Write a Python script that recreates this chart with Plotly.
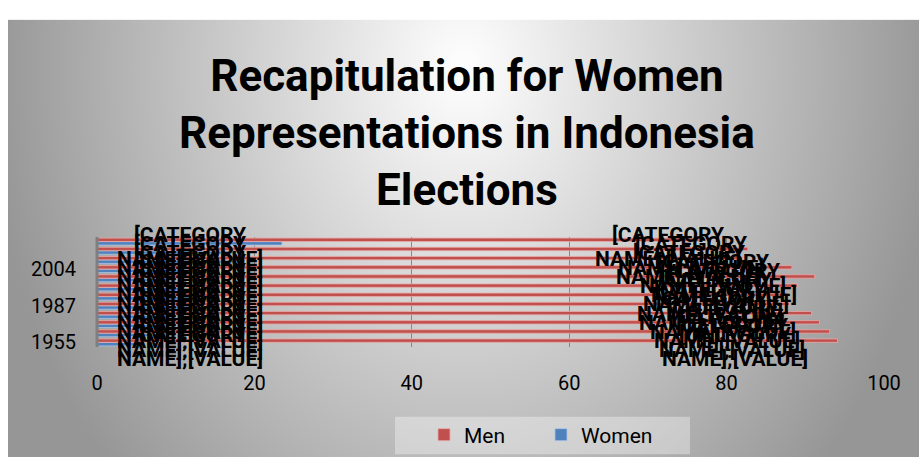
import base64
import struct
import zlib

import numpy as np
import plotly.graph_objects as go

# Election years (bottom to top) and seat shares in percent
years = ["1955", "1971", "1977", "1982", "1987", "1992",
         "1997", "1999", "2004", "2009", "2014", "2019"]
men = [94.1, 93.1, 91.8, 90.8, 88.0, 87.5, 89.0, 91.2, 88.3, 82.0, 82.7, 76.5]
women = [5.9, 6.9, 8.2, 9.2, 12.0, 12.5, 11.0, 8.8, 11.7, 18.0, 17.3, 23.5]
shown_years = ["1955", "1987", "2004"]
x_ticks = [0, 20, 40, 60, 80, 100]

title_text = ("Recapitulation for Women<br>Representations in Indonesia<br>"
              "Elections")
label_lines = ["[CATEGORY", "NAME];[VALUE]"]

W, H = 919, 467
# plot area in pixels
PL, PR, PT, PB = 97, 884, 237, 352
FONT = "Roboto, sans-serif"


def px_x(p):
    return (p - PL) / (PR - PL)


def px_y(p):
    return (PB - p) / (PB - PT)


def gradient_png(w, h):
    """Soft grey backdrop, brightest near the top centre."""
    xs = np.arange(w)[None, :]
    ys = np.arange(h)[:, None]
    r = np.sqrt(((xs - w / 2) / (w / 2)) ** 2 + ((ys - 50) / 600) ** 2)
    v = 255 - 100 * np.clip(r, 0, 1.05)
    v = np.clip(v, 0, 255).astype(np.uint8)
    rgb = np.stack([v, v, v], axis=-1)
    raw = b"".join(b"\x00" + row.tobytes() for row in rgb)

    def chunk(tag, data):
        c = struct.pack(">I", len(data)) + tag + data
        return c + struct.pack(">I", zlib.crc32(tag + data) & 0xFFFFFFFF)

    png = b"\x89PNG\r\n\x1a\n"
    png += chunk(b"IHDR", struct.pack(">IIBBBBB", w, h, 8, 2, 0, 0, 0))
    png += chunk(b"IDAT", zlib.compress(raw, 9))
    png += chunk(b"IEND", b"")
    return "data:image/png;base64," + base64.b64encode(png).decode()


fig = go.Figure()
fig.add_trace(go.Bar(
    y=years, x=women, orientation="h", name="Women",
    marker=dict(color="#4F81BD", line=dict(color="#A9C4E6", width=0.8)),
))
fig.add_trace(go.Bar(
    y=years, x=men, orientation="h", name="Men",
    marker=dict(color="#C0504D", line=dict(color="#EAA9A7", width=0.8)),
))

annotations = []
label_font = dict(family=FONT, size=21, color="#000000", weight="bold")
LINE = 24  # spacing between the two lines of a data label
for idx, (w_val, m_val) in enumerate(zip(women, men)):
    for cx in (11.8, 72.5 + 0.49 * (m_val - 76.5)):
        for k, line in enumerate(label_lines):
            annotations.append(dict(
                x=cx, y=idx, text=line, showarrow=False, xanchor="center",
                yanchor="middle", yshift=-5 + LINE / 2 - k * LINE,
                font=label_font, xref="x", yref="y",
            ))

annotations.append(dict(
    x=px_x(467), y=px_y(128), xref="paper", yref="paper", text=title_text,
    showarrow=False, xanchor="center", yanchor="middle", align="center",
    font=dict(family=FONT, size=44, color="#000000", weight="bold"),
))

shapes = [
    # legend panel
    dict(type="rect", xref="paper", yref="paper",
         x0=px_x(395), x1=px_x(690), y0=px_y(425), y1=px_y(464),
         fillcolor="rgba(255,255,255,0.35)", line=dict(width=0), layer="below"),
    # value axis line at zero
    dict(type="line", xref="paper", yref="paper",
         x0=px_x(97), x1=px_x(97), y0=0, y1=1,
         line=dict(color="#7F7F7F", width=3)),
]

fig.update_layout(
    width=W, height=H, autosize=False,
    margin=dict(l=PL, r=W - PR, t=PT, b=H - PB, pad=0),
    paper_bgcolor="#FFFFFF", plot_bgcolor="rgba(0,0,0,0)",
    barmode="group", bargap=0.22, bargroupgap=0.05,
    showlegend=True,
    legend=dict(orientation="h", traceorder="reversed",
                x=px_x(424), y=px_y(444), xanchor="left", yanchor="middle",
                bgcolor="rgba(0,0,0,0)",
                font=dict(family=FONT, size=21, color="#000000"),
                itemwidth=30, entrywidth=72, entrywidthmode="pixels"),
    xaxis=dict(range=[0, 100], tickvals=x_ticks, showgrid=True,
               gridcolor="#868686", gridwidth=1, zeroline=False,
               showline=False, ticks="", ticklabelstandoff=22,
               tickfont=dict(family=FONT, size=20, color="#000000")),
    yaxis=dict(type="category", categoryorder="array", categoryarray=years,
               range=[-0.5, len(years) - 0.5], autorange=False,
               tickvals=shown_years, showgrid=False, zeroline=False,
               showline=False, ticks="", ticklabelstandoff=20,
               tickfont=dict(family=FONT, size=20, color="#000000")),
    images=[dict(source=gradient_png(W - 8, H - 10), xref="paper",
                 yref="paper", x=px_x(8), y=px_y(10),
                 sizex=px_x(W) - px_x(8), sizey=px_y(10) - px_y(H),
                 sizing="stretch", xanchor="left", yanchor="top",
                 layer="below")],
    annotations=annotations,
    shapes=shapes,
    font=dict(family=FONT),
)

fig.write_html("out.html")
